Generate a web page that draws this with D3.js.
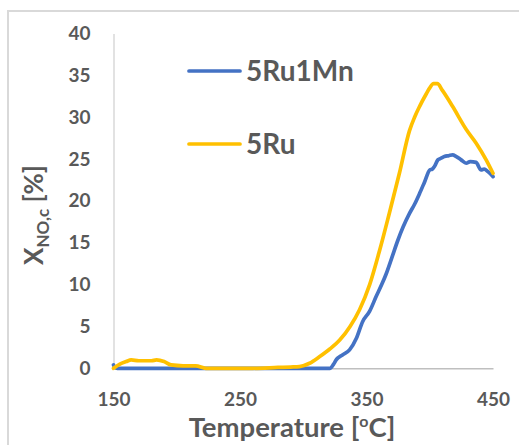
<!DOCTYPE html>
<html>
<head>
<meta charset="utf-8">
<script src="https://cdn.jsdelivr.net/npm/d3@7"></script>
<style>
    body { margin: 0; background: #fff; }
    .axis text { font-family: Lato, "Open Sans", sans-serif; font-weight: 700; fill: #595959; }
</style>
</head>
<body>
<div id="chart"></div>
<script>

// series: 5Ru1Mn (blue)
let tempRuMn = [150, 151, 153, 180, 200, 250, 300, 321, 324, 326, 331, 336.6, 342, 347, 352.4, 357.7,
    362, 365.6, 370, 374.8, 379, 384, 388, 392, 396, 400, 402, 403.7, 406.4, 409, 411.6, 415, 418, 421,
    424.8, 428.8, 432, 436.6, 440.6, 443, 446, 450];
let valRuMn = [0.4, 0.1, 0, 0, 0, 0, 0, 0, 0.5, 1.0, 1.6, 2.2, 3.6, 5.6, 6.8, 8.6,
    10.0, 11.3, 13.2, 15.3, 16.9, 18.5, 19.6, 20.9, 22.3, 23.7, 23.8, 24.1, 24.9, 25.1, 25.3, 25.4, 25.5, 25.3,
    24.9, 24.5, 24.7, 24.6, 23.7, 23.8, 23.5, 22.9];

// series: 5Ru (yellow)
let tempRu = [150, 155, 160, 164, 170, 175, 180, 184, 190, 195.5, 205, 215, 223, 240, 260, 280, 290, 297,
    305, 313, 321, 329, 337, 344.5, 352.5, 360.4, 368, 376, 384, 388, 392, 397.3, 400, 403, 406, 410, 418,
    429, 436.7, 444.6, 450];
let valRu = [0, 0.5, 0.8, 1.0, 0.9, 0.9, 0.9, 1.0, 0.8, 0.4, 0.3, 0.3, 0.0, 0.0, 0.0, 0.1, 0.15, 0.2,
    0.6, 1.4, 2.3, 3.4, 5.0, 7.0, 10.0, 14.1, 18.5, 23.3, 28.4, 30.0, 31.3, 32.8, 33.5, 34.0, 34.0, 33.2, 31.3,
    28.5, 26.9, 24.9, 23.3];

let xTicks = [150, 250, 350, 450];
let yTicks = [0, 5, 10, 15, 20, 25, 30, 35, 40];
let seriesNames = ["5Ru1Mn", "5Ru"];
let seriesColors = ["#4472C4", "#FFC000"];

let W = 519, H = 445;
let margin = {top: 33.5, right: 26, bottom: 76.7, left: 113.5};
let width = W - margin.left - margin.right;
let height = H - margin.top - margin.bottom;

let svg = d3.select("#chart").append("svg")
    .attr("width", W)
    .attr("height", H);

// outer frame
svg.append("rect")
    .attr("x", 8).attr("y", 11)
    .attr("width", W + 10).attr("height", H + 10)
    .attr("fill", "none")
    .attr("stroke", "#d9d9d9")
    .attr("stroke-width", 2);

let g = svg.append("g")
    .attr("transform", `translate(${margin.left}, ${margin.top})`);

let x = d3.scaleLinear().domain([150, 450]).range([0, width]);
let y = d3.scaleLinear().domain([0, 40]).range([height, 0]);

// axes
let xAxisG = g.append("g")
    .attr("class", "axis")
    .attr("transform", `translate(0, ${height})`)
    .call(d3.axisBottom(x).tickValues(xTicks).tickSize(0).tickPadding(24));
xAxisG.select(".domain").attr("stroke", "#bfbfbf").attr("stroke-width", 1.5);
xAxisG.selectAll("text").attr("font-size", 19);

let yAxisG = g.append("g")
    .attr("class", "axis")
    .call(d3.axisLeft(y).tickValues(yTicks).tickSize(0).tickPadding(23));
yAxisG.select(".domain").attr("stroke", "#d9d9d9").attr("stroke-width", 1.5);
yAxisG.selectAll("text").attr("font-size", 19);

// lines
let line = d3.line()
    .curve(d3.curveMonotoneX)
    .x(d => x(d[0]))
    .y(d => y(d[1]));

let dataRuMn = tempRuMn.map((t, i) => [t, valRuMn[i]]);
let dataRu = tempRu.map((t, i) => [t, valRu[i]]);

[dataRuMn, dataRu].forEach(function(d, i) {
    g.append("path")
        .datum(d)
        .attr("fill", "none")
        .attr("stroke", seriesColors[i])
        .attr("stroke-width", 3.7)
        .attr("stroke-linejoin", "round")
        .attr("stroke-linecap", "round")
        .attr("d", line);
});

// legend
let legend = svg.append("g");
seriesNames.forEach(function(name, i) {
    let ly = 71 + i * 73;
    legend.append("line")
        .attr("x1", 189).attr("x2", 240)
        .attr("y1", ly).attr("y2", ly)
        .attr("stroke", seriesColors[i])
        .attr("stroke-width", 3.7)
        .attr("stroke-linecap", "round");
    legend.append("text")
        .attr("x", 246)
        .attr("y", ly + 10)
        .attr("font-family", "Lato, 'Open Sans', sans-serif")
        .attr("font-weight", 700)
        .attr("font-size", 28)
        .attr("fill", "#595959")
        .text(name);
});

// axis titles
let xt = svg.append("text")
    .attr("x", 292)
    .attr("y", 437)
    .attr("text-anchor", "middle")
    .attr("font-family", "Lato, 'Open Sans', sans-serif")
    .attr("font-weight", 700)
    .attr("font-size", 27.5)
    .attr("fill", "#595959");
xt.append("tspan").text("Temperature [");
xt.append("tspan").attr("font-size", 16).attr("dy", -10).text("o");
xt.append("tspan").attr("dy", 10).text("C]");

let yt = svg.append("text")
    .attr("transform", "translate(43, 215) rotate(-90)")
    .attr("text-anchor", "middle")
    .attr("font-family", "Lato, 'Open Sans', sans-serif")
    .attr("font-weight", 700)
    .attr("font-size", 26)
    .attr("fill", "#595959");
yt.append("tspan").text("X");
yt.append("tspan").attr("font-size", 17).attr("dy", 6).text("NO,c");
yt.append("tspan").attr("dy", -6).text(" [%]");

</script>
</body>
</html>
